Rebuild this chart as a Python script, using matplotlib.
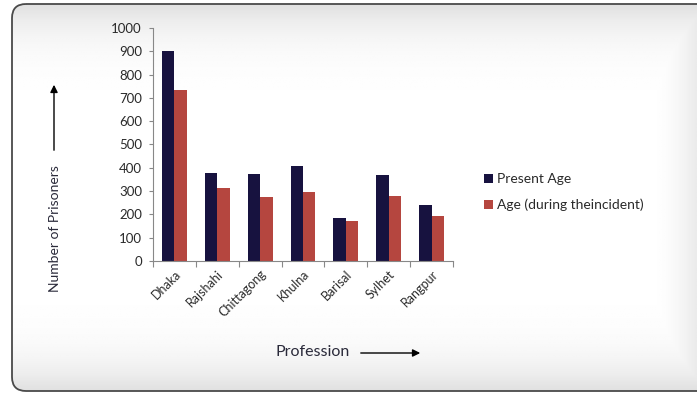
import numpy as np
import matplotlib.pyplot as plt
from matplotlib.patches import FancyBboxPatch

# datos
regions = ['Dhaka', 'Rajshahi', 'Chittagong', 'Khulna', 'Barisal', 'Sylhet', 'Rangpur']
present_age = [900, 378, 372, 408, 185, 368, 240]
age_incident = [735, 312, 275, 295, 170, 277, 192]

plt.rcParams['font.family'] = ['Lato', 'DejaVu Sans']

fig = plt.figure(figsize=(6.97, 3.94), dpi=100)
fig.patch.set_facecolor('white')

# fondo con bordes redondeados y degradado suave
bg = fig.add_axes([0, 0, 1, 1])
bg.set_xlim(0, 697)
bg.set_ylim(394, 0)
bg.axis('off')
yy = np.linspace(0, 1, 200)
xx = np.linspace(0, 1, 300)
grad_y = 0.12 * (np.abs(yy - 0.5) * 2) ** 6
grad_x = 0.08 * np.clip((xx - 0.93) / 0.07, 0, 1) ** 2
img = 1 - np.maximum(grad_y[:, None], grad_x[None, :])
frame = FancyBboxPatch((12, 4), 720, 387, boxstyle='round,pad=0,rounding_size=14',
                       facecolor='none', edgecolor='#4a4a4a', linewidth=1.3,
                       transform=bg.transData, zorder=3)
im = bg.imshow(img, extent=[12, 697, 391, 4], cmap='gray', vmin=0, vmax=1,
               aspect='auto', zorder=1)
im.set_clip_path(frame)
bg.add_patch(frame)

ax = fig.add_axes([0.2195, 0.3376, 0.4305, 0.5914])
ax.patch.set_alpha(0)
x = np.arange(len(regions))
w = 0.29
ax.bar(x - w / 2, present_age, w, color='#17123f', label='Present Age')
ax.bar(x + w / 2, age_incident, w, color='#b5463f', label='Age (during theincident)')

ax.set_xlim(-0.5, len(regions) - 0.5)
ax.set_ylim(0, 1000)
ax.set_yticks(range(0, 1001, 100))
ax.set_xticks(np.arange(-0.5, len(regions), 1.0))
ax.set_xticklabels([])
ax.set_xticks(x, minor=True)
ax.set_xticklabels(regions, minor=True, rotation=45, ha='right', va='top',
                   rotation_mode='anchor', fontsize=9, color='#2a2a2a')
ax.tick_params(axis='x', which='minor', length=0, pad=5)
ax.tick_params(axis='x', which='major', length=4, color='#888888')
ax.tick_params(axis='y', length=3, color='#888888', labelsize=9.5, labelcolor='#2a2a2a', pad=5)
for s in ['top', 'right']:
    ax.spines[s].set_visible(False)
for s in ['left', 'bottom']:
    ax.spines[s].set_color('#888888')

leg = fig.legend(loc='upper left', bbox_to_anchor=(0.677, 0.592), frameon=False,
                 fontsize=10, handlelength=0.6, handleheight=0.6, handletextpad=0.3,
                 labelspacing=0.95, labelcolor='#2a2a2a')

# etiquetas de ejes con flechas
fig.text(0.079, 0.42, 'Number of Prisoners', rotation=90, ha='center', va='center',
         fontsize=10, color='#2a2a3a')
bg.annotate('', xy=(54, 82), xytext=(54, 153),
            arrowprops=dict(arrowstyle='-|>', color='black', lw=1, mutation_scale=11))
fig.text(0.449, 0.106, 'Profession', ha='center', va='center', fontsize=11.5, color='#2a2a3a')
bg.annotate('', xy=(423, 353), xytext=(358, 353),
            arrowprops=dict(arrowstyle='-|>', color='black', lw=1, mutation_scale=11))

plt.savefig('out.png', dpi=100)
